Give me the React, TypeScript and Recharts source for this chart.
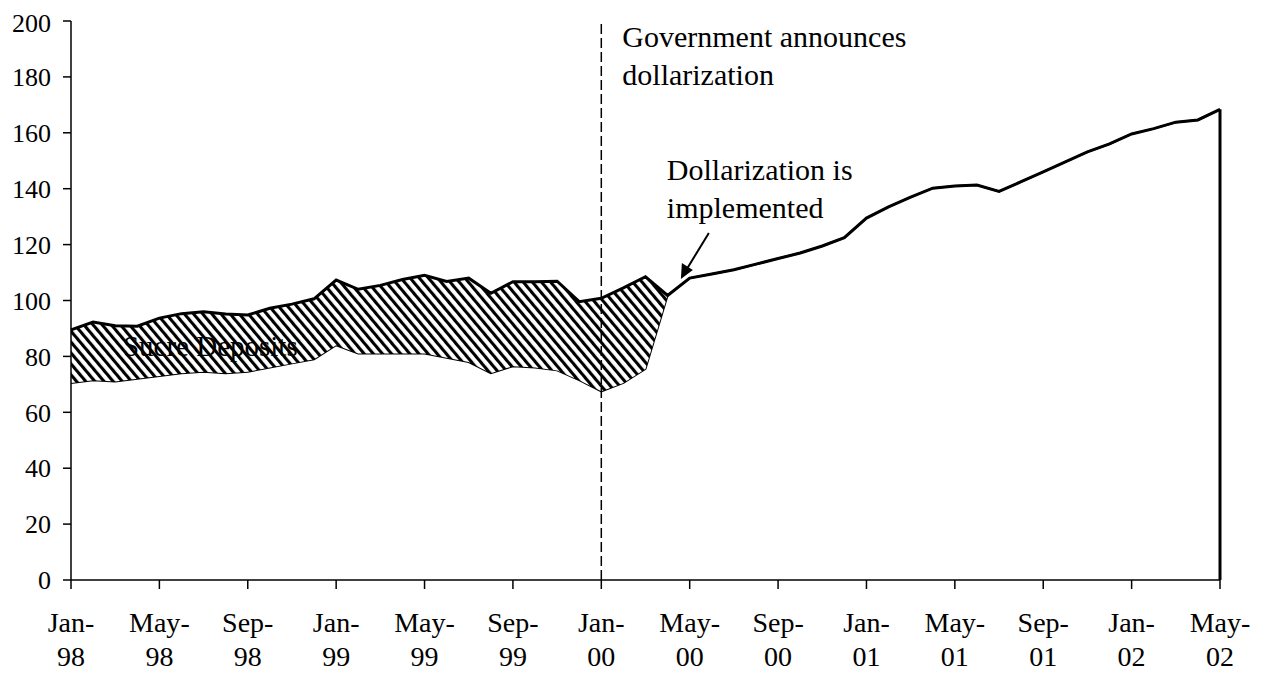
import React from 'react';
import { AreaChart, Area, XAxis, YAxis, ReferenceLine, ReferenceDot } from 'recharts';

const months = [
  'Jan-98', 'Feb-98', 'Mar-98', 'Apr-98', 'May-98', 'Jun-98', 'Jul-98', 'Aug-98', 'Sep-98', 'Oct-98', 'Nov-98', 'Dec-98',
  'Jan-99', 'Feb-99', 'Mar-99', 'Apr-99', 'May-99', 'Jun-99', 'Jul-99', 'Aug-99', 'Sep-99', 'Oct-99', 'Nov-99', 'Dec-99',
  'Jan-00', 'Feb-00', 'Mar-00', 'Apr-00', 'May-00', 'Jun-00', 'Jul-00', 'Aug-00', 'Sep-00', 'Oct-00', 'Nov-00', 'Dec-00',
  'Jan-01', 'Feb-01', 'Mar-01', 'Apr-01', 'May-01', 'Jun-01', 'Jul-01', 'Aug-01', 'Sep-01', 'Oct-01', 'Nov-01', 'Dec-01',
  'Jan-02', 'Feb-02', 'Mar-02', 'Apr-02', 'May-02',
];

// dollar deposits (lower, white area)
const dollarDeposits = [
  70.5, 71.5, 71, 72, 73, 74, 74.5, 74, 74.5, 76, 77.5, 79,
  84, 81, 81, 81, 81, 79.5, 78, 74, 76.5, 76, 75, 71.5,
  67.5, 70.5, 75.5, 101.8, 108, 109.5, 111, 113, 115, 117, 119.5, 122.5,
  129.5, 133.5, 137, 140.2, 141, 141.3, 139, 142.5, 146, 149.6, 153.2, 156,
  159.6, 161.5, 163.8, 164.6, 168.4,
];

// sucre deposits (hatched, stacked on top)
const sucreDeposits = [
  19, 20.8, 20, 18.8, 20.7, 21.3, 21.5, 21.2, 20.3, 21.2, 21.2, 21.6,
  23.3, 23, 24.4, 26.5, 28, 27.3, 30, 28.6, 30.2, 30.7, 31.9, 28.1,
  33.3, 34, 33, 0, 0, 0, 0, 0, 0, 0, 0, 0,
  0, 0, 0, 0, 0, 0, 0, 0, 0, 0, 0, 0,
  0, 0, 0, 0, 0,
];

const yTicks = [0, 20, 40, 60, 80, 100, 120, 140, 160, 180, 200];
const xTicks = months.map((_, i) => i).filter((i) => i % 4 === 0);

const data = months.map((m, i) => ({
  idx: i,
  month: m,
  dollar: dollarDeposits[i],
  sucre: sucreDeposits[i],
}));

const last = months.length - 1;
const endTotal = dollarDeposits[last] + sucreDeposits[last];

const serif = "'Liberation Serif', 'Times New Roman', serif";

const MonthTick = (props: any) => {
  const { x, y, payload } = props;
  const label: string = months[payload.value] || '';
  const [mon, yr] = label.split('-');
  return (
    <g>
      <text x={x} y={y + 39} textAnchor="middle" fontFamily={serif} fontSize={28} fill="#000">
        {mon}-
      </text>
      <text x={x} y={y + 73} textAnchor="middle" fontFamily={serif} fontSize={28} fill="#000">
        {yr}
      </text>
    </g>
  );
};

const App = () => {
  return (
    <div style={{ width: 1253, height: 667 }}>
      <AreaChart width={1253} height={667} data={data} margin={{ top: 13, right: 41, bottom: 0, left: 0 }}>
        <defs>
          <pattern id="hatch" patternUnits="userSpaceOnUse" width={7} height={7} patternTransform="rotate(-40)">
            <rect width={7} height={7} fill="#fff" />
            <line x1={1.5} y1={0} x2={1.5} y2={7} stroke="#000" strokeWidth={3.2} />
          </pattern>
        </defs>
        <XAxis
          dataKey="idx"
          type="number"
          domain={[0, last]}
          ticks={xTicks}
          interval={0}
          height={95}
          tickSize={9}
          tickMargin={4}
          tick={<MonthTick />}
          axisLine={{ stroke: '#000', strokeWidth: 1.5 }}
          tickLine={{ stroke: '#000', strokeWidth: 1.5 }}
        />
        <YAxis
          domain={[0, 200]}
          ticks={yTicks}
          width={63}
          tickSize={8}
          tickMargin={12}
          axisLine={{ stroke: '#000', strokeWidth: 1.5 }}
          tickLine={{ stroke: '#000', strokeWidth: 1.5 }}
          tick={{ fill: '#000', fontFamily: serif, fontSize: 26 }}
        />
        <Area
          type="linear"
          dataKey="dollar"
          stackId="dep"
          stroke="#000"
          strokeWidth={2}
          fill="#fff"
          fillOpacity={1}
          isAnimationActive={false}
        />
        <Area
          type="linear"
          dataKey="sucre"
          stackId="dep"
          stroke="#000"
          strokeWidth={3}
          fill="url(#hatch)"
          fillOpacity={1}
          isAnimationActive={false}
        />
        <ReferenceLine
          segment={[{ x: last, y: 0 }, { x: last, y: endTotal }]}
          stroke="#000"
          strokeWidth={3}
        />
        <ReferenceLine x={24} stroke="#000" strokeWidth={1.5} strokeDasharray="10 4" />
        <ReferenceDot
          x={24}
          y={190}
          r={0}
          ifOverflow="visible"
          shape={(p: any) => (
            <g>
              <text x={p.cx + 21} y={p.cy - 2} fontFamily={serif} fontSize={30} fill="#000">
                Government announces
              </text>
              <text x={p.cx + 21} y={p.cy + 36} fontFamily={serif} fontSize={30} fill="#000">
                dollarization
              </text>
            </g>
          )}
        />
        <ReferenceDot
          x={27.6}
          y={107.7}
          r={0}
          ifOverflow="visible"
          shape={(p: any) => (
            <g>
              <text x={p.cx - 14} y={p.cy - 99} fontFamily={serif} fontSize={30} fill="#000">
                Dollarization is
              </text>
              <text x={p.cx - 14} y={p.cy - 61} fontFamily={serif} fontSize={30} fill="#000">
                implemented
              </text>
              <line x1={p.cx + 28} y1={p.cy - 46} x2={p.cx + 6} y2={p.cy - 10} stroke="#000" strokeWidth={2} />
              <polygon
                points={`${p.cx},${p.cy} ${p.cx + 1},${p.cy - 16} ${p.cx + 12},${p.cy - 9}`}
                fill="#000"
              />
            </g>
          )}
        />
        <ReferenceDot
          x={2.35}
          y={80.1}
          r={0}
          ifOverflow="visible"
          shape={(p: any) => (
            <text x={p.cx} y={p.cy} fontFamily={serif} fontSize={29} fill="#000">
              Sucre Deposits
            </text>
          )}
        />
      </AreaChart>
    </div>
  );
};

export default App;
